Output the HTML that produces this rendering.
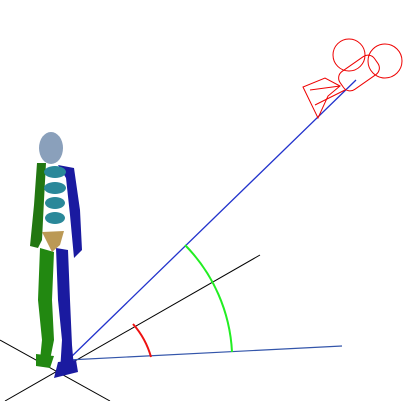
<!DOCTYPE html>
<html><head><style>html,body{margin:0;padding:0;background:#fff}svg{display:block}</style></head>
<body>
<svg width="416" height="401" viewBox="0 0 416 401" xmlns="http://www.w3.org/2000/svg">
<g stroke="#000" stroke-width="1">
<line x1="0" y1="340" x2="110" y2="401"/>
<line x1="5" y1="401" x2="260" y2="255"/>
</g>
<line x1="68" y1="360" x2="356" y2="80" stroke="#2233cc" stroke-width="1.3"/>
<line x1="68" y1="360" x2="342" y2="346" stroke="#3355aa" stroke-width="1.2"/>
<path d="M185,245 A164,164 0 0 1 232,352" fill="none" stroke="#22ee22" stroke-width="2"/>
<path d="M133,324 A84,84 0 0 1 151,357" fill="none" stroke="#ee1111" stroke-width="2"/>
<g fill="none" stroke="#ee0000" stroke-width="1">
<circle cx="349" cy="55" r="16"/>
<circle cx="385" cy="61" r="17"/>
<rect x="338" y="62" width="42" height="22" rx="8" transform="rotate(-35 359 73)"/>
<path d="M303,87 L318,118 L328,96 L340,86 L325,78 Z"/>
<line x1="310" y1="90" x2="340" y2="86"/>
<line x1="315" y1="105" x2="345" y2="90"/>
</g>
<g>
<ellipse cx="51" cy="148" rx="12" ry="16" fill="#8aa0bb"/>
<path d="M37,163 L46,163 L44,200 L42,240 L38,248 L30,246 L34,205 Z" fill="#227711"/>
<path d="M40,248 L54,252 L52,300 L54,340 L50,360 L40,360 L42,340 L38,300 Z" fill="#228811"/>
<path d="M58,165 L74,168 L80,210 L82,250 L74,258 L70,215 L66,178 Z" fill="#1a1aa0"/>
<path d="M56,248 L68,250 L70,300 L72,345 L74,368 L60,372 L62,340 L58,300 Z" fill="#1a1aa0"/>
<g fill="#2a8899">
<ellipse cx="55" cy="172" rx="11" ry="6"/>
<ellipse cx="55" cy="188" rx="11" ry="6"/>
<ellipse cx="55" cy="203" rx="10" ry="6"/>
<ellipse cx="55" cy="218" rx="10" ry="6"/>
</g>
<path d="M42,232 L64,231 L60,245 L52,252 Z" fill="#bb9955"/>
<path d="M36,354 L54,356 L50,368 L36,366 Z" fill="#228811"/>
<path d="M58,362 L76,360 L78,372 L54,378 Z" fill="#1a1aa0"/>
</g>
</svg>
</body></html>
